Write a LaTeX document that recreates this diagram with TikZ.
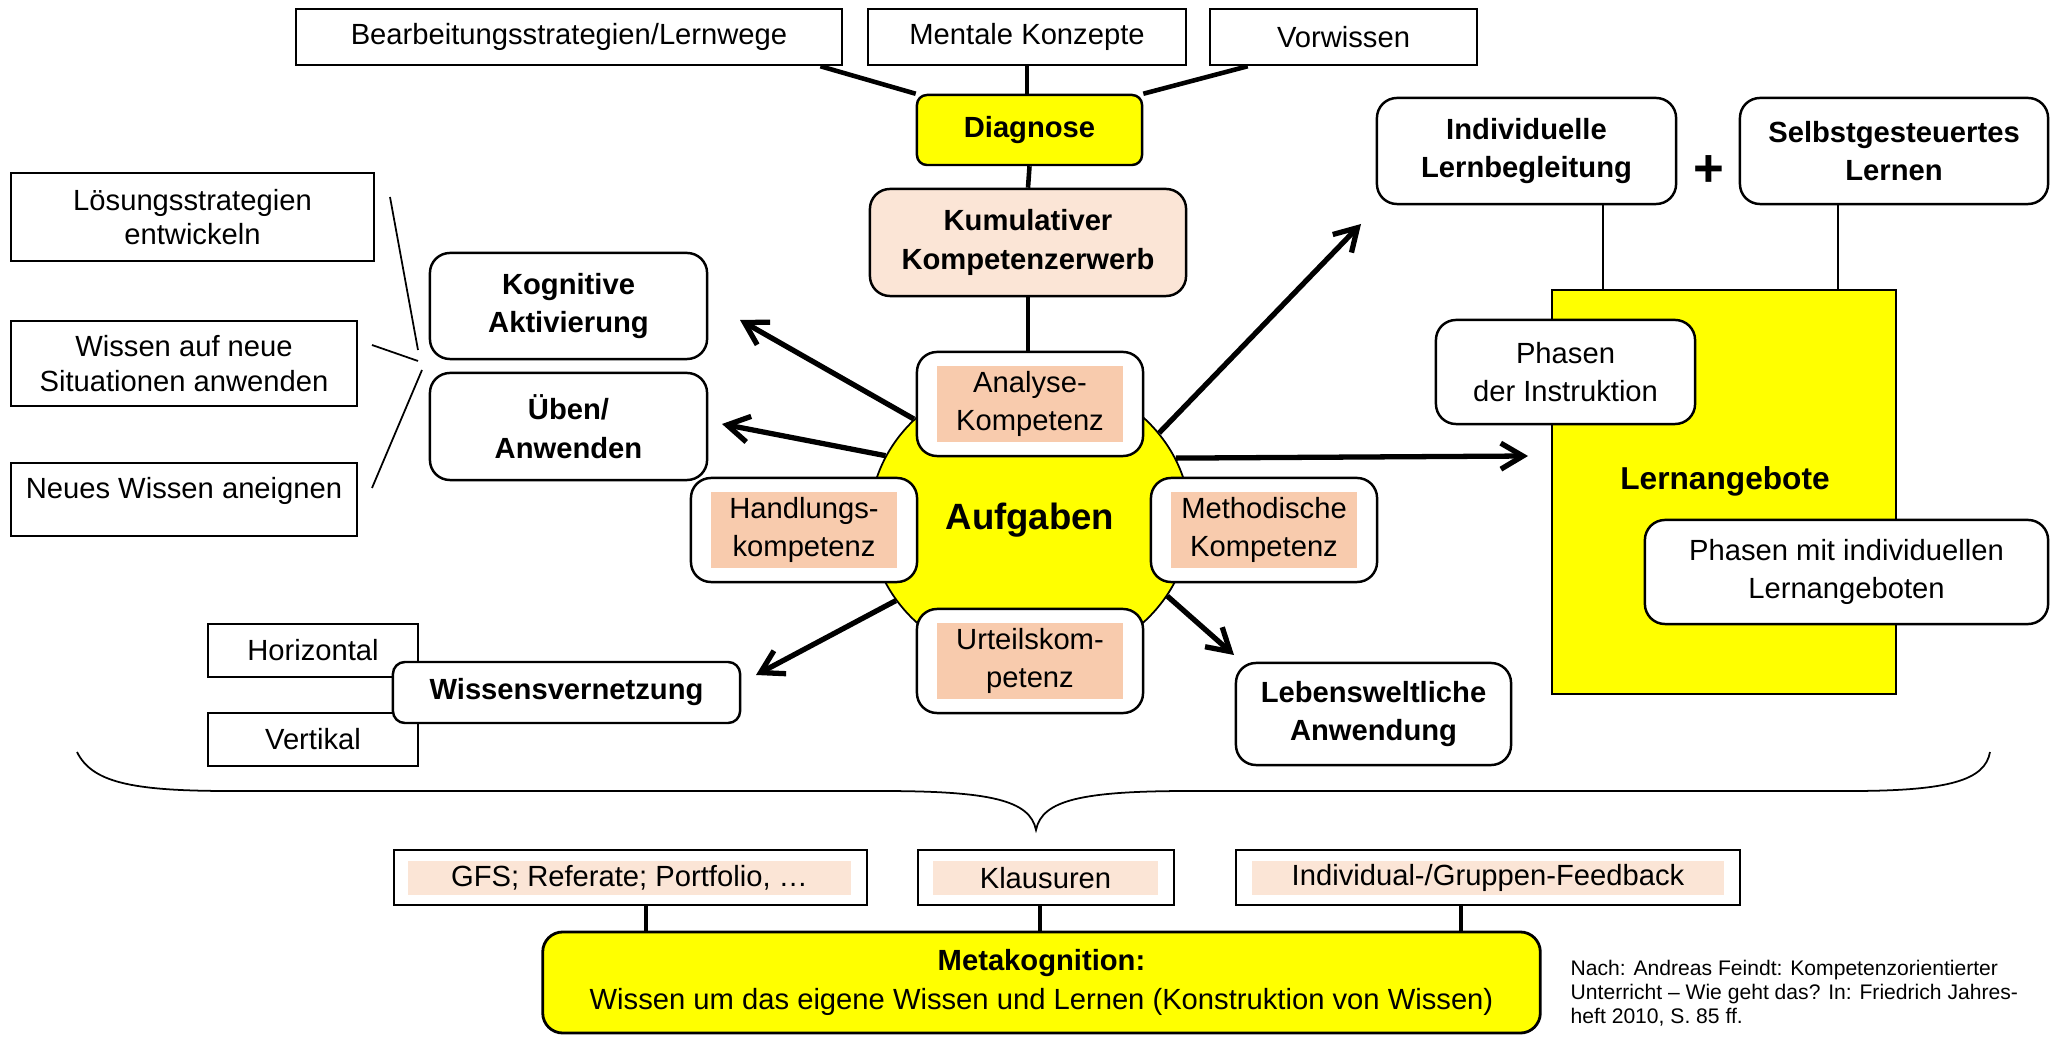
\documentclass[tikz,border=0pt]{standalone}
\usepackage{fontspec}
\setmainfont{Liberation Sans}
\usetikzlibrary{arrows.meta,calc,shapes.geometric}
\definecolor{gelb}{HTML}{FFFF00}
\definecolor{hellpfirsich}{HTML}{FBE5D6}
\definecolor{pfirsich}{HTML}{F8CBAD}

\begin{document}
\begin{tikzpicture}
      [x = 0.01cm, y = -0.01cm,
      txt/.style={
         align = center,
         inner sep = 0pt,
         font = \fontsize{8.3}{11}\selectfont
      },
      bold/.style={txt, font = \fontsize{8.3}{11}\selectfont\bfseries},
      dims/.style 2 args={minimum width = #1cm, minimum height = #2cm},
      box/.style={draw, line width = 0.7pt, fill = white, txt},
      rbox/.style={box, rounded corners = 0.2cm},
      kompbox/.style={rbox, dims = {2.26}{1.04}},
      kompin/.style={txt, fill = pfirsich, dims = {1.86}{0.75}},
      unten/.style={box, minimum height = 0.55cm},
      untenin/.style={txt, fill = hellpfirsich, minimum height = 0.34cm},
      link/.style={line width = 1.3pt},
      fine/.style={line width = 0.5pt},
      pfeil/.style={line width = 1.5pt, -{Straight Barb[length = 2.2mm, width = 2.6mm]}}]

      \useasboundingbox (0, 0) rectangle (2058, 1037);

      % Diagnose
      \node[box, dims = {5.46}{0.56}] (bearb) at (569, 37) {Bearbeitungsstrategien/Lernwege};
      \node[box, dims = {3.18}{0.56}] (mental) at (1027, 37) {Mentale Konzepte};
      \node[box, dims = {2.67}{0.56}] (vorw) at (1343.5, 37) {Vorwissen};
      \node[box, bold, fill = gelb, rounded corners = 0.1cm, dims = {2.25}{0.70}] (diag) at (1029.5, 130) {Diagnose};
      \node[rbox, bold, fill = hellpfirsich, dims = {3.16}{1.07}] (kumul) at (1028, 242.5) {Kumulativer\\Kompetenzerwerb};

      \draw[link] ($(bearb.south east) + (-23, 0)$) -- (diag.north west);
      \draw[link] (mental.south) -- (mental.south |- diag.north);
      \draw[link] ($(vorw.south west) + (39, 0)$) -- (diag.north east);
      \draw[link] (diag.south) -- (kumul.north);

      % Aufgaben
      \node[draw, ellipse, fill = gelb, line width = 0.5pt, minimum width = 3.2cm, minimum height = 2.9cm,
         font = \fontsize{10.4}{12}\selectfont\bfseries] (aufg) at (1030, 520) {Aufgaben};

      \coordinate (kogpfeil) at (740, 320);
      \coordinate (uebpfeil) at (722, 424);
      \coordinate (indivpfeil) at (1361, 224);
      \coordinate (angpfeil) at (1528, 456);
      \coordinate (lebpfeil) at (1234, 655);
      \coordinate (vernpfeil) at (756, 675);
      \draw[pfeil] (aufg.139) -- (kogpfeil);
      \draw[pfeil] (aufg.156) -- (uebpfeil);
      \draw[pfeil] (aufg.34.7) -- (indivpfeil);
      \draw[pfeil] (aufg.23.7) -- (angpfeil);
      \draw[pfeil] (aufg.-29) -- (lebpfeil);
      \draw[pfeil] (aufg.211.5) -- (vernpfeil);

      \node[kompbox] (ana) at (1030, 404) {};
      \node[kompin] (anatxt) at (ana) {Analyse-\\Kompetenz};
      \node[kompbox] (hand) at (804, 530) {};
      \node[kompin] (handtxt) at (hand) {Handlungs-\\kompetenz};
      \node[kompbox] (meth) at (1264, 530) {};
      \node[kompin] (methtxt) at (meth) {Methodische\\Kompetenz};
      \node[kompbox] (urt) at (1030, 661) {};
      \node[kompin] (urttxt) at (urt) {Urteilskom-\\petenz};

      \draw[link] (kumul.south) -- (kumul.south |- ana.north);

      % links
      \node[rbox, bold, dims = {2.77}{1.06}] (kog) at (568.5, 306) {Kognitive\\Aktivierung};
      \node[rbox, bold, dims = {2.77}{1.07}] (ueben) at (568.5, 426.5) {Üben/\\Anwenden};
      \node[box, dims = {3.63}{0.88}, font = \fontsize{8.3}{9.8}\selectfont] (loes) at (192.5, 217) {Lösungsstrategien\\entwickeln};
      \node[box, dims = {3.46}{0.85}, font = \fontsize{8.3}{9.8}\selectfont] (wissen) at (184, 363.5) {Wissen auf neue\\Situationen anwenden};
      \node[box, dims = {3.46}{0.73}] (neues) at (184, 499.5) {};
      \node[txt] (neuestxt) at (184, 491) {Neues Wissen aneignen};

      \coordinate (loesende) at (390, 197);
      \coordinate (wissende) at (372, 345);
      \coordinate (neuende) at (372, 488);
      \coordinate (kogende) at (418, 350);
      \coordinate (mitte) at (418, 361);
      \coordinate (uebende) at (422, 370);
      \draw[fine] (loesende) -- (kogende);
      \draw[fine] (wissende) -- (mitte);
      \draw[fine] (neuende) -- (uebende);

      \node[box, dims = {2.10}{0.53}] (horiz) at (313, 650.5) {Horizontal};
      \node[box, dims = {2.10}{0.53}] (vert) at (313, 739.5) {Vertikal};
      \node[box, bold, rounded corners = 0.12cm, dims = {3.47}{0.61}] (wissvern) at (566.5, 692.5) {Wissensvernetzung};

      \node[rbox, bold, dims = {2.75}{1.02}] (lebens) at (1373.5, 714) {Lebensweltliche\\Anwendung};

      % rechts
      \node[rbox, bold, dims = {2.99}{1.06}] (indiv) at (1526.5, 151) {Individuelle\\Lernbegleitung};
      \node[rbox, bold, dims = {3.08}{1.06}] (selbst) at (1894, 151) {Selbstgesteuertes\\Lernen};
      \node[inner sep = 0pt, font = \fontsize{15}{15}\selectfont\bfseries] (plus) at (1709, 171) {+};
      \node[draw, fill = gelb, line width = 0.6pt, dims = {3.44}{4.04}] (lernang) at (1724, 492) {};
      \node[txt, font = \fontsize{9}{11}\selectfont\bfseries] (lernlbl) at (1725, 481) {Lernangebote};
      \coordinate (indivx) at (1603, 0);
      \coordinate (selbstx) at (1838, 0);
      \draw[fine] (indiv.south -| indivx) -- (lernang.north -| indivx);
      \draw[fine] (selbst.south -| selbstx) -- (lernang.north -| selbstx);
      \node[rbox, dims = {2.59}{1.04}] (phinst) at (1565.5, 372) {Phasen\\der Instruktion};
      \node[rbox, dims = {4.03}{1.04}] (phind) at (1846.5, 572) {Phasen mit individuellen\\Lernangeboten};

      % Klammer
      \draw[fine] (77, 752) .. controls (92, 782) and (130, 791) .. (230, 791) -- (880, 791)
         .. controls (990, 791) and (1030, 800) .. (1036, 830)
         .. controls (1042, 800) and (1082, 791) .. (1190, 791) -- (1850, 791)
         .. controls (1950, 791) and (1985, 780) .. (1990, 752);

      % Metakognition
      \node[unten, minimum width = 4.73cm] (gfs) at (630.5, 877.5) {};
      \node[untenin, minimum width = 4.43cm] (gfstxt) at (629.5, 878) {GFS; Referate; Portfolio, …};
      \node[unten, minimum width = 2.56cm] (klaus) at (1046, 877.5) {};
      \node[untenin, minimum width = 2.25cm] (klaustxt) at (1045.5, 878) {Klausuren};
      \node[unten, minimum width = 5.04cm] (feed) at (1488, 877.5) {};
      \node[untenin, minimum width = 4.72cm] (feedtxt) at (1488, 878) {Individual-/Gruppen-Feedback};
      \node[rbox, fill = gelb, line width = 0.8pt, dims = {9.97}{1.01}] (meta) at (1041.5, 982.5)
         {\textbf{Metakognition:}\\Wissen um das eigene Wissen und Lernen (Konstruktion von Wissen)};
      \coordinate (gfsx) at (646, 0);
      \coordinate (klausx) at (1040, 0);
      \coordinate (feedx) at (1461, 0);
      \draw[link] (gfs.south -| gfsx) -- (meta.north -| gfsx);
      \draw[link] (klaus.south -| klausx) -- (meta.north -| klausx);
      \draw[link] (feed.south -| feedx) -- (meta.north -| feedx);

      \node[anchor = north west, align = left, inner sep = 0pt, font = \fontsize{6}{6.9}\selectfont] (quelle) at (1570, 959)
         {Nach: Andreas Feindt: Kompetenzorientierter\\Unterricht -- Wie geht das? In: Friedrich Jahres-\\heft 2010, S. 85 ff.};

   \end{tikzpicture}
\end{document}
